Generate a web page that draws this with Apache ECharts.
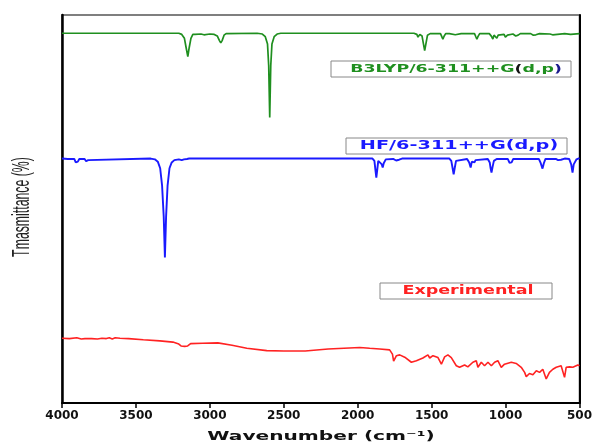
<!DOCTYPE html>
<html>
<head>
    <meta charset="utf-8">
    <title>IR spectra</title>
    <style>
    body { margin: 0; background: #fff; }
    </style>
    <script type="text/javascript" src="https://cdn.jsdelivr.net/npm/echarts@6/dist/echarts.min.js"></script>
</head>
<body>
    <div id="main" style="width:595px;height:444px"></div>
    <script>
    // x tick marks (wavenumber, cm-1)
    var xTicks = [4000, 3500, 3000, 2500, 2000, 1500, 1000, 500];

    // B3LYP/6-311++G(d,p) computed spectrum, [wavenumber, offset transmittance]
    var b3lyp = [
        [4000,95.3],[3210,95.3],[3190,95.0],[3172,94],[3160,91.5],[3149,89.3],[3140,91.5],[3128,94],[3115,95.0],
        [3100,95.0],[3060,95.1],[3040,94.9],[3000,95.1],[2970,95.0],[2950,94.6],[2935,93.4],[2926,92.8],[2917,93.4],
        [2904,94.8],[2890,95.2],[2680,95.3],[2645,95.1],[2625,94.4],[2610,92.5],[2602,87],[2595,73.6],[2588,87],
        [2580,92.5],[2565,94.4],[2545,95.1],[2520,95.3],[1620,95.3],[1600,95.0],[1592,94.3],[1580,95.0],[1565,94.6],
        [1555,92.5],[1547,90.8],[1539,92.5],[1528,94.8],[1510,95.2],[1440,95.2],[1432,94.5],[1424,93.75],[1415,94.6],
        [1405,95.2],[1380,95.2],[1340,94.9],[1300,95.2],[1210,95.2],[1201,94.4],[1194,93.8],[1186,94.5],[1175,95.2],
        [1110,95.2],[1095,94.5],[1086,93.8],[1078,94.8],[1068,94.6],[1059,94.0],[1050,94.8],[1010,95.0],[1001,94.3],
        [995,94.0],[987,94.8],[950,95.1],[931,94.6],[924,94.3],[915,94.8],[900,95.2],[830,95.2],[812,94.8],[804,94.6],
        [795,94.9],[770,95.2],[700,95.1],[690,94.9],[682,94.9],[670,95.1],[600,95.2],[560,95.0],[500,95.2]
    ];

    // HF/6-311++G(d,p) computed spectrum
    var hf = [
        [4000,63.0],[3960,62.9],[3950,62.5],[3940,62.9],[3917,62.9],[3907,62.0],[3901,61.7],[3893,62.2],[3883,62.9],
        [3847,62.9],[3837,62.3],[3831,62.2],[3823,62.6],[3813,63.0],[3400,63.0],[3372,62.8],[3352,62.2],[3336,60.5],
        [3323,56],[3312,48],[3304,37.5],[3296,48],[3286,56],[3273,60.5],[3258,62.0],[3240,62.6],[3210,62.8],[3190,62.6],
        [3175,62.8],[3166,62.5],[3162,62.5],[3155,62.9],[3140,63.0],[1900,63.0],[1887,62.4],[1880,60],[1874,58.1],
        [1868,60],[1861,62.4],[1850,62.6],[1837,61.5],[1831,60.7],[1824,61.8],[1810,62.8],[1760,62.9],[1740,62.5],
        [1730,62.2],[1720,62.7],[1700,63.0],[1380,63.0],[1367,62.4],[1358,60.5],[1351,58.9],[1344,60.5],[1335,62.4],
        [1325,62.9],[1260,62.9],[1246,62.0],[1236,60.7],[1228,62.2],[1218,62.5],[1210,62.0],[1203,62.6],[1190,62.9],
        [1120,62.9],[1107,62.0],[1101,60.5],[1095,59.4],[1088,60.8],[1079,62.4],[1060,62.9],[985,62.9],[973,61.9],
        [966,61.4],[959,62.0],[948,62.9],[775,62.9],[762,61.8],[750,60.4],[741,61.8],[730,62.9],[660,62.9],[645,62.6],
        [635,62.2],[625,62.7],[600,63.0],[570,62.9],[556,61.5],[547,59.4],[539,61.5],[520,62.8],[500,63.1]
    ];

    // experimental FT-IR spectrum
    var experimental = [
        [4000,16.7],[3950,16.6],[3900,16.8],[3870,16.5],[3858,16.2],[3845,16.6],[3800,16.6],[3760,16.5],[3730,16.7],
        [3700,16.6],[3680,16.8],[3660,16.5],[3640,16.8],[3608,16.7],[3550,16.6],[3450,16.3],[3338,16.0],[3250,15.7],
        [3210,15.2],[3195,14.7],[3182,14.4],[3170,14.6],[3160,15.1],[3150,14.7],[3140,14.9],[3130,15.3],[3050,15.4],
        [2946,15.5],[2850,14.9],[2750,14.1],[2615,13.5],[2500,13.4],[2385,13.4],[2372,12.9],[2355,13.4],[2200,13.9],
        [1986,14.3],[1919,14.1],[1851,13.9],[1784,13.7],[1765,12.6],[1757,10.8],[1738,12.2],[1716,12.4],[1682,11.8],
        [1637,10.5],[1603,10.9],[1559,11.6],[1525,12.4],[1513,11.6],[1491,12.2],[1457,11.7],[1434,10.0],[1412,11.9],
        [1390,12.4],[1367,11.7],[1333,9.6],[1311,9.2],[1277,9.8],[1255,9.3],[1221,10.5],[1198,10.9],[1187,9.2],
        [1164,10.5],[1142,9.6],[1119,10.5],[1096,9.6],[1074,10.5],[1052,10.9],[1029,9.2],[1007,10.0],[961,10.5],
        [928,10.2],[894,9.2],[871,7.9],[860,6.8],[838,7.6],[815,7.3],[792,8.3],[770,7.9],[748,8.7],[725,6.2],
        [703,7.9],[680,8.7],[657,9.2],[624,9.6],[601,6.6],[590,9.2],[567,9.3],[545,9.2],[511,9.8],[500,9.6]
    ];

    var boldFont = 'DejaVu Sans';

    option = {
        animation: false,
        backgroundColor: '#fff',
        grid: {
            left: 62,
            right: 15,
            top: 15,
            bottom: 41,
            show: true,
            borderColor: '#555',
            borderWidth: 1.5
        },
        xAxis: {
            type: 'value',
            inverse: true,
            min: 500,
            max: 4000,
            interval: 500,
            axisLine: { show: true, onZero: false, lineStyle: { color: '#000', width: 2 } },
            axisTick: { show: true, inside: false, length: 5, lineStyle: { color: '#000', width: 1.5 } },
            axisLabel: {
                margin: 7,
                color: '#111',
                fontFamily: boldFont,
                fontWeight: 'bold',
                fontSize: 12,
                formatter: function (v) { return xTicks.indexOf(v) >= 0 ? String(v) : ''; }
            },
            splitLine: { show: false }
        },
        yAxis: [{
            type: 'value',
            min: 0,
            max: 100,
            axisLine: { show: true, onZero: false, lineStyle: { color: '#000', width: 2.5 } },
            axisTick: { show: false },
            axisLabel: { show: false },
            splitLine: { show: false }
        }, {
            type: 'value',
            position: 'right',
            min: 0,
            max: 100,
            axisLine: { show: true, onZero: false, lineStyle: { color: '#000', width: 2 } },
            axisTick: { show: false },
            axisLabel: { show: false },
            splitLine: { show: false }
        }],
        series: [{
            name: 'B3LYP/6-311++G(d,p)',
            type: 'line',
            symbol: 'none',
            lineStyle: { color: '#1f8f1f', width: 1.7 },
            data: b3lyp
        }, {
            name: 'HF/6-311++G(d,p)',
            type: 'line',
            symbol: 'none',
            lineStyle: { color: '#1a1aff', width: 1.9 },
            data: hf
        }, {
            name: 'Experimental',
            type: 'line',
            symbol: 'none',
            lineStyle: { color: '#ff2222', width: 1.6 },
            data: experimental
        }],
        graphic: [
            // legend boxes
            { type: 'rect', shape: { x: 331, y: 61, width: 240, height: 16 },
              style: { fill: '#fff', stroke: '#888', lineWidth: 1 } },
            { type: 'text', x: 456, y: 69, scaleX: 1.58,
              style: {
                  text: '{g|B3LYP/6-311++G}{k|(}{g|d,p}{b|)}',
                  align: 'center', verticalAlign: 'middle',
                  rich: {
                      g: { fill: '#1f8f1f', fontFamily: boldFont, fontWeight: 'bold', fontSize: 11 },
                      k: { fill: '#111', fontFamily: boldFont, fontWeight: 'bold', fontSize: 11 },
                      b: { fill: '#1a1a8c', fontFamily: boldFont, fontWeight: 'bold', fontSize: 11 }
                  }
              } },
            { type: 'rect', shape: { x: 346, y: 138, width: 221, height: 16 },
              style: { fill: '#fff', stroke: '#888', lineWidth: 1 } },
            { type: 'text', x: 459, y: 146, scaleX: 1.54,
              style: {
                  text: 'HF/6-311++G(d,p)', fill: '#1a1aff',
                  font: 'bold 12.5px ' + boldFont,
                  align: 'center', verticalAlign: 'middle'
              } },
            { type: 'rect', shape: { x: 380, y: 283, width: 172, height: 16 },
              style: { fill: '#fff', stroke: '#888', lineWidth: 1 } },
            { type: 'text', x: 468, y: 291, scaleX: 1.46,
              style: {
                  text: 'Experimental', fill: '#ff2222',
                  font: 'bold 12px ' + boldFont,
                  align: 'center', verticalAlign: 'middle'
              } },
            // axis titles
            { type: 'text', x: 321, y: 437, scaleX: 1.55,
              style: {
                  text: 'Wavenumber (cm\u207B\u00B9)', fill: '#111',
                  font: 'bold 13px ' + boldFont,
                  align: 'center', verticalAlign: 'middle'
              } },
            { type: 'text', x: 23, y: 207, rotation: Math.PI / 2, scaleY: 1.9,
              style: {
                  text: 'Tmasmittance (%)', fill: '#222',
                  font: '12.3px "Liberation Sans"',
                  align: 'center', verticalAlign: 'middle'
              } }
        ]
    };

    var myChart = echarts.init(document.getElementById('main'));
    myChart.setOption(option);
    </script>
</body>
</html>
